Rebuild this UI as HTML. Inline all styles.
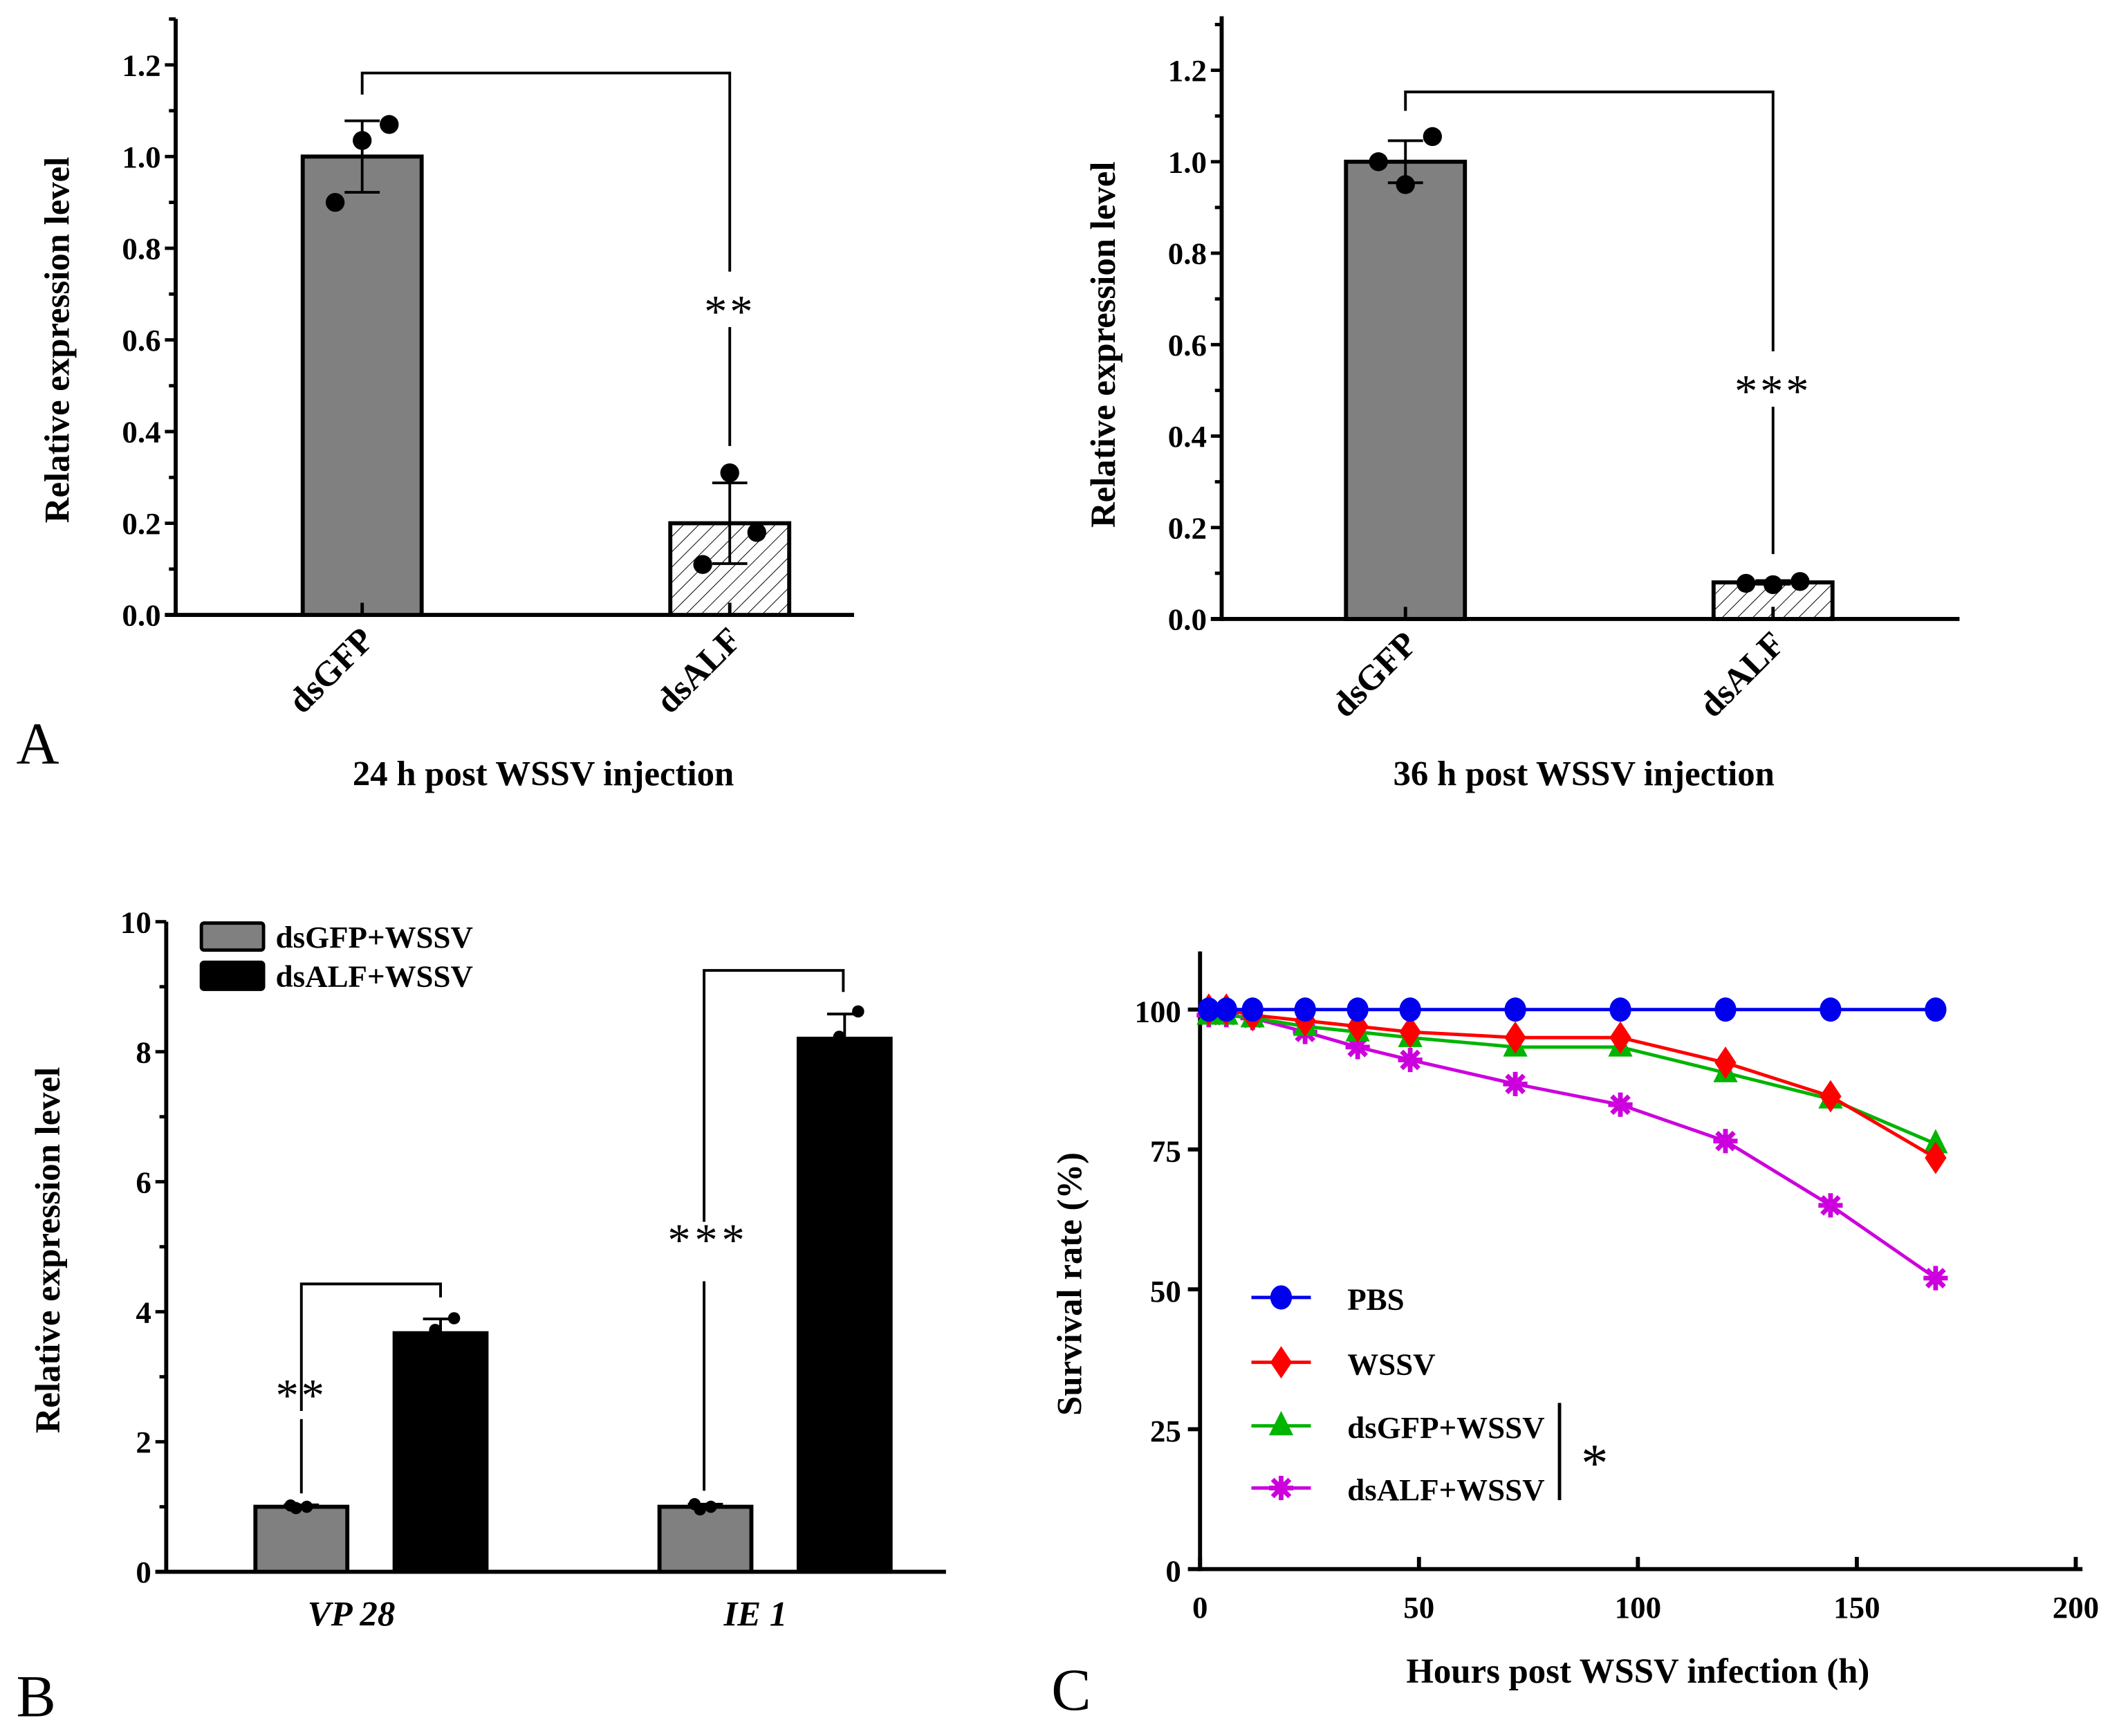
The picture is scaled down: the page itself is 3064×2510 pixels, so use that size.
<!DOCTYPE html>
<html><head><meta charset="utf-8"><style>
html,body{margin:0;padding:0;background:#fff;}
svg{display:block;font-family:"Liberation Serif",serif;}
.t{font-weight:bold;font-size:23px;}
.ax{font-weight:bold;font-size:26px;}
</style></head><body>
<svg id="fig" width="3064" height="2510" viewBox="0 0 1568 1284.5" xmlns="http://www.w3.org/2000/svg">
<defs>
<pattern id="hatch" patternUnits="userSpaceOnUse" width="8" height="8" patternTransform="rotate(45)">
<rect width="8" height="8" fill="#fff"/><line x1="0" y1="0" x2="0" y2="8" stroke="#000" stroke-width="1"/>
</pattern>
</defs>
<g id="root"></g>
</svg>
<script>
// Panel A (24 h)
const aCats = ["dsGFP", "dsALF"];
const a24Means = [1.0, 0.2];
const a24Err = [0.078, 0.088];
const a24Pts = [[0.90, 1.035, 1.07], [0.11, 0.31, 0.18]];
// Panel A (36 h)
const a36Means = [1.0, 0.08];
const a36Err = [0.046, 0.004];
const a36Pts = [[1.0, 0.95, 1.055], [0.078, 0.075, 0.082]];
const aTicks = [0.0, 0.2, 0.4, 0.6, 0.8, 1.0, 1.2];
// Panel B
const bCats = ["VP 28", "IE 1"];
const bSeries = ["dsGFP+WSSV", "dsALF+WSSV"];
const bGfp = [1.0, 1.0];
const bAlf = [3.67, 8.2];
const bGfpErr = [0.03, 0.04];
const bAlfErr = [0.22, 0.38];
const bGfpPts = [[1.02, 0.98, 1.0], [1.04, 0.96, 1.0]];
const bAlfPts = [[3.72, 3.6, 3.9], [8.23, 8.0, 8.62]];
const bTicks = [0, 2, 4, 6, 8, 10];
// Panel C
const cTimes = [2, 6, 12, 24, 36, 48, 72, 96, 120, 144, 168];
const cPBS = [100, 100, 100, 100, 100, 100, 100, 100, 100, 100, 100];
const cWSSV = [100, 100, 99, 98, 97, 96, 95, 95, 90.5, 84.5, 73.5];
const cGFP = [99, 99, 98.5, 97, 96, 95, 93.3, 93.3, 88.7, 84, 76];
const cALF = [99, 99, 98.5, 96, 93.3, 91, 86.7, 83, 76.5, 65, 52];
const cYTicks = [0, 25, 50, 75, 100];
const cXTicks = [0, 50, 100, 150, 200];

const NS = "http://www.w3.org/2000/svg";
const root = document.getElementById("root");
function el(tag, attrs, parent, txt) {
  const e = document.createElementNS(NS, tag);
  for (const k in attrs) e.setAttribute(k, attrs[k]);
  if (txt !== undefined) e.textContent = txt;
  (parent || root).appendChild(e);
  return e;
}
function line(x1, y1, x2, y2, w, p, c) { return el("line", {x1, y1, x2, y2, stroke: c || "#000", "stroke-width": w || 2}, p); }

function barPanel(opt) {
  const g = el("g", {});
  
  
  const y = v => opt.y0 - (v - opt.vmin) / (opt.vmax - opt.vmin) * (opt.y0 - opt.y1);
  line(opt.ax, opt.top, opt.ax, opt.y0 + 1.5, 3, g);
  line(opt.ax - 8, opt.y0, opt.xend, opt.y0, 3, g);
  opt.ticks.forEach((t, i) => {
    const yy = y(t);
    line(opt.ax - 8, yy, opt.ax, yy, 2.5, g);
    if (i < opt.ticks.length - 1) { const ym = y(t + (opt.ticks[1] - opt.ticks[0]) / 2); line(opt.ax - 5, ym, opt.ax, ym, 2.5, g); }
    const tl = el("text", {x: opt.ax - 11, y: yy + 8, "text-anchor": "end", class: "t"}, g, opt.fmt(t));
    
    
  });
  if (opt.extraTop) { const ym = y(opt.ticks[opt.ticks.length - 1] + (opt.ticks[1] - opt.ticks[0]) / 2); line(opt.ax - 5, ym, opt.ax, ym, 2.5, g); }
  const yt = el("text", {x: 0, y: 0, transform: `translate(${opt.ax - 79},${opt.ytitleY || (opt.y0 + opt.y1) / 2}) rotate(-90)`, "text-anchor": "middle", class: "ax"}, g, "Relative expression level");
  
  
  return {g, y};
}

function drawBar(g, cx, w, v, y, fill, name) {
  const r = el("rect", {x: cx - w / 2, y: y(v), width: w, height: y(0) - y(v), fill, stroke: "#000", "stroke-width": 3}, g);
  
  
}
function drawErr(g, cx, v, e, y, down) {
  line(cx, y(v + e), cx, down ? y(v - e) : y(v), 2, g);
  line(cx - 13, y(v + e), cx + 13, y(v + e), 2, g);
  if (down) line(cx - 13, y(v - e), cx + 13, y(v - e), 2, g);
}
function drawPts(g, cx, pts, y, r, offs) {
  offs = offs || [-20, 0, 20];
  pts.forEach((p, i) => {
    const c = el("circle", {cx: cx + offs[i], cy: y(p), r, fill: "#000"}, g);
    
    
  });
}

function panelA(name, ax, y0, y1, top, xend, centers, means, errs, pts, bracketY, leftDrop, rightDrop, stars, starY, title, titleX) {
  const {g, y} = barPanel({name, ax, y0, y1, top, xend, vmin: 0, vmax: 1.2, ticks: aTicks, fmt: t => t.toFixed(1), extraTop: true});
  const fills = ["#808080", "url(#hatch)"];
  centers.forEach((cx, i) => {
    drawBar(g, cx, 88, means[i], y, fills[i], "bar-" + aCats[i]);
    line(cx, y0, cx, y0 - 9, 2.5, g);
    drawErr(g, cx, means[i], errs[i], y, true);
    drawPts(g, cx, pts[i], y, 7);
    const lb = el("text", {transform: `translate(${cx + 10},${y0 + 20}) rotate(-45)`, "text-anchor": "end", class: "ax", "font-size": "25"}, g, aCats[i]);
    
    
  });
  el("path", {d: `M${centers[0]},${leftDrop} V${bracketY} H${centers[1]} V${starY - 27}`, fill: "none", stroke: "#000", "stroke-width": 2}, g);
  line(centers[1], starY + 14, centers[1], rightDrop, 2, g);
  const s = el("text", {x: centers[1], y: starY + 14, "text-anchor": "middle", "font-size": "34", "letter-spacing": "2"}, g, stars);
  
  
  const t = el("text", {x: titleX, y: 581, "text-anchor": "middle", class: "ax"}, g, title);
  
  
}

panelA("panel-a-24h", 130, 455, 48, 14, 632, [268, 540], a24Means, a24Err, a24Pts, 54, 70, 330, "**", 228, "24 h post WSSV injection", 402);
panelA("panel-a-36h", 904, 458, 52, 12, 1450, [1040, 1312], a36Means, a36Err, a36Pts, 68, 82, 410, "***", 287, "36 h post WSSV injection", 1172);

const lA = el("text", {x: 12, y: 565, "font-size": "44"}, root, "A");



// Panel B
(function () {
  const {g, y} = barPanel({name: "panel-b", ax: 123, y0: 1163, y1: 682, top: 682, xend: 700, vmin: 0, vmax: 10, ticks: bTicks, fmt: t => String(t), ytitleY: 925});
  const groupX = [274, 573];
  groupX.forEach((gx, i) => {
    const xg = gx - 51, xa = gx + 52;
    drawBar(g, xg, 68, bGfp[i], y, "#808080", "bar-gfp-" + i);
    drawBar(g, xa, 68, bAlf[i], y, "#000", "bar-alf-" + i);
    drawErr(g, xg, bGfp[i], bGfpErr[i], y, false);
    drawErr(g, xa, bAlf[i], bAlfErr[i], y, false);
    drawPts(g, xg, bGfpPts[i], y, 4.5, [-8, -4, 4]);
    drawPts(g, xa, bAlfPts[i], y, 4.5, [-4, -8, 10]);
    const lb = el("text", {x: gx - 14, y: 1203, "text-anchor": "middle", class: "ax", "font-style": "italic"}, g, bCats[i]);
    
    
  });
  el("path", {d: `M223,1044 V950 H326 V960`, fill: "none", stroke: "#000", "stroke-width": 2}, g);
  line(223, 1105, 223, 1050, 2, g);
  el("text", {x: 223, y: 1044, "text-anchor": "middle", "font-size": "34", "letter-spacing": "2"}, g, "**");
  el("path", {d: `M521,904 V718 H624 V734`, fill: "none", stroke: "#000", "stroke-width": 2}, g);
  line(521, 948, 521, 1103, 2, g);
  el("text", {x: 524, y: 929, "text-anchor": "middle", "font-size": "34", "letter-spacing": "3"}, g, "***");
  const fills = ["#808080", "#000"];
  bSeries.forEach((s, i) => {
    const yy = 683 + i * 29;
    const r = el("rect", {x: 149, y: yy, width: 46, height: 20, fill: fills[i], stroke: "#000", "stroke-width": 2.5, rx: 2}, g);
    
    
    const t = el("text", {x: 204, y: yy + 18, class: "t", "font-size": "22"}, g, s);
    
    
  });
})();
const lB = el("text", {x: 12, y: 1270, "font-size": "44"}, root, "B");



// Panel C
(function () {
  const g = el("g", {});
  
  
  const X0 = 888, X1 = 1536, Y0 = 1161, Y100 = 747;
  const x = h => X0 + h / 200 * (X1 - X0);
  const y = v => Y0 - v / 100 * (Y0 - Y100);
  line(X0, 704, X0, Y0 + 1.5, 3, g);
  line(X0 - 1.5, Y0, 1541, Y0, 3, g);
  cYTicks.forEach(t => {
    line(X0 - 9, y(t), X0, y(t), 3, g);
    el("text", {x: X0 - 14, y: y(t) + 9, "text-anchor": "end", class: "t", "font-size": "25"}, g, String(t));
  });
  cXTicks.forEach(t => {
    line(x(t), Y0, x(t), Y0 - 9, 3, g);
    el("text", {x: x(t), y: Y0 + 36, "text-anchor": "middle", class: "t", "font-size": "25"}, g, String(t));
  });
  const xt = el("text", {x: 1212, y: 1245, "text-anchor": "middle", class: "ax", "font-size": "27"}, g, "Hours post WSSV infection (h)");
  
  
  const yt = el("text", {transform: `translate(800,950) rotate(-90)`, "text-anchor": "middle", class: "ax", "font-size": "27"}, g, "Survival rate (%)");
  
  

  function marker(type, cx, cy, col, p) {
    let m;
    if (type === "circle") m = el("ellipse", {cx, cy, rx: 8, ry: 9, fill: col}, p);
    else if (type === "diamond") m = el("path", {d: `M${cx},${cy - 12} L${cx + 8},${cy} L${cx},${cy + 12} L${cx - 8},${cy} Z`, fill: col}, p);
    else if (type === "tri") m = el("path", {d: `M${cx},${cy - 11} L${cx + 9},${cy + 7} L${cx - 9},${cy + 7} Z`, fill: col}, p);
    else {
      m = el("g", {stroke: col, "stroke-width": 3.5}, p);
      for (let a = 0; a < 4; a++) { const r = a * Math.PI / 4; el("line", {x1: cx - 9 * Math.cos(r), y1: cy - 9 * Math.sin(r), x2: cx + 9 * Math.cos(r), y2: cy + 9 * Math.sin(r)}, m); }
      el("circle", {cx, cy, r: 5, fill: col, stroke: "none"}, m);
    }
    
    
  }
  const series = [
    ["dsALF+WSSV", cALF, "#cc00dd", "star"],
    ["dsGFP+WSSV", cGFP, "#00b400", "tri"],
    ["WSSV", cWSSV, "#ff0000", "diamond"],
    ["PBS", cPBS, "#0000ee", "circle"]
  ];
  series.forEach(([nm, vals, col, mk]) => {
    const sg = el("g", {}, g);
    
    
    el("polyline", {points: cTimes.map((t, i) => x(t) + "," + y(vals[i])).join(" "), fill: "none", stroke: col, "stroke-width": 2.5}, sg);
    cTimes.forEach((t, i) => marker(mk, x(t), y(vals[i]), col, sg));
  });
  const legOrder = [series[3], series[2], series[1], series[0]];
  const legY = [960, 1008, 1055, 1101];
  legOrder.forEach(([nm, vals, col, mk], i) => {
    const lg = el("g", {}, g);
    
    
    line(926, legY[i], 970, legY[i], 2.5, lg, col);
    marker(mk, 948, legY[i], col, lg);
    el("text", {x: 997, y: legY[i] + 9, class: "t", "font-size": "24"}, lg, nm);
  });
  line(1154, 1038, 1154, 1110, 2.5, g);
  el("text", {x: 1180, y: 1096, "text-anchor": "middle", "font-size": "40"}, g, "*");
})();
const lC = el("text", {x: 778, y: 1265, "font-size": "44"}, root, "C");


</script>
</body></html>
